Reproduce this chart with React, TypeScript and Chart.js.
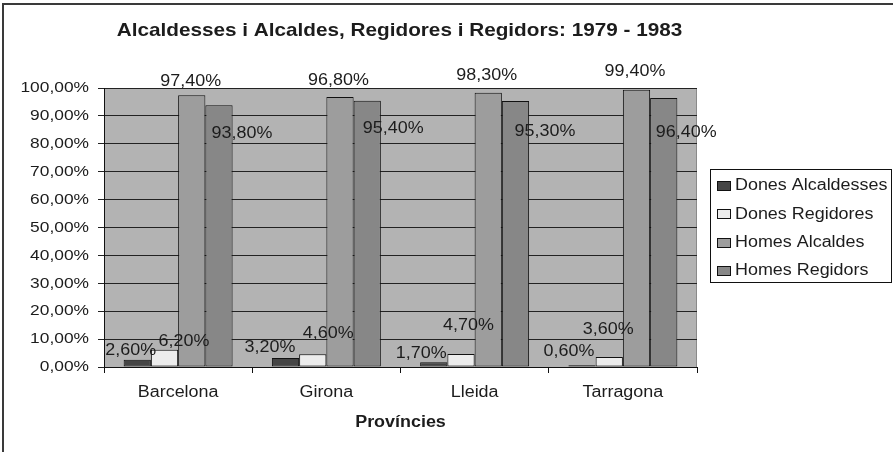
import React, { useEffect, useRef } from "react";
import { Chart, registerables } from "chart.js";

Chart.register(...registerables);

const TITLE = "Alcaldesses i Alcaldes, Regidores i Regidors: 1979 - 1983";
const X_TITLE = "Províncies";
const categories = ["Barcelona", "Girona", "Lleida", "Tarragona"];
const seriesNames = ["Dones Alcaldesses", "Dones Regidores", "Homes Alcaldes", "Homes Regidors"];
const donesAlcaldesses = [2.6, 3.2, 1.7, 0.6];
const donesRegidores = [6.2, 4.6, 4.7, 3.6];
const homesAlcaldes = [97.4, 96.8, 98.3, 99.4];
const homesRegidors = [93.8, 95.4, 95.3, 96.4];
const yTickValues = [0, 10, 20, 30, 40, 50, 60, 70, 80, 90, 100];

const seriesValues = [donesAlcaldesses, donesRegidores, homesAlcaldes, homesRegidors];
const seriesColors = ["#454545", "#ececec", "#9d9d9d", "#878787"];

// label offsets (dx, dy) of the label centre from each bar's top centre, as placed in the original
const LABEL_OFFSETS = [
  [[-6.5, -8.7], [-15.5, -10], [-12.5, -9], [-13, -14]],
  [[19.5, -8.6], [15.5, -21], [7.5, -28], [-1, -27]],
  [[-1, -14], [-1.5, -16], [-1.5, -17], [-1.5, -18]],
  [[23, 28.6], [26, 28], [29.5, 30], [22.5, 35]],
];

const FONT = "'Liberation Sans', Arial, sans-serif";
const STRETCH = 1.12;
const TEXT = "#1c1c1c";

const fmt = (v: number) => v.toFixed(2).replace(".", ",") + "%";

function drawText(ctx: CanvasRenderingContext2D, text: string, x: number, y: number, align: CanvasTextAlign, font: string) {
  ctx.save();
  ctx.translate(x, y);
  ctx.scale(STRETCH, 1);
  ctx.font = font;
  ctx.fillStyle = TEXT;
  ctx.textAlign = align;
  ctx.textBaseline = "middle";
  ctx.fillText(text, 0, 0);
  ctx.restore();
}

const decorPlugin = {
  id: "decor",
  beforeDraw(chart: any) {
    const { ctx, chartArea } = chart;
    ctx.save();
    ctx.fillStyle = "#ffffff";
    ctx.fillRect(0, 0, chart.width, chart.height);
    ctx.fillStyle = "#b3b3b3";
    ctx.fillRect(chartArea.left, chartArea.top, chartArea.right - chartArea.left, chartArea.bottom - chartArea.top);
    ctx.strokeStyle = "#8a8a8a";
    ctx.lineWidth = 1;
    ctx.beginPath();
    ctx.moveTo(chartArea.right - 0.5, chartArea.top);
    ctx.lineTo(chartArea.right - 0.5, chartArea.bottom);
    ctx.stroke();
    ctx.restore();
  },
  afterDraw(chart: any) {
    const { ctx, chartArea } = chart;
    const xs = chart.scales.x;
    const ys = chart.scales.y;
    // outer frame (top & left)
    ctx.save();
    ctx.strokeStyle = "#3a3a3a";
    ctx.lineWidth = 2;
    ctx.beginPath();
    ctx.moveTo(chart.width, 4);
    ctx.lineTo(3, 4);
    ctx.lineTo(3, chart.height);
    ctx.stroke();
    ctx.restore();

    // title
    drawText(ctx, TITLE, (chartArea.left + chartArea.right) / 2 - 1, 31, "center", `bold 18.5px ${FONT}`);

    // y tick labels
    yTickValues.forEach((v) => {
      drawText(ctx, fmt(v), 89, ys.getPixelForValue(v), "right", `15.5px ${FONT}`);
    });
    // category labels
    categories.forEach((c, i) => {
      drawText(ctx, c, xs.getPixelForValue(i), 393, "center", `16px ${FONT}`);
    });
    // x title
    drawText(ctx, X_TITLE, (chartArea.left + chartArea.right) / 2, 423, "center", `bold 16px ${FONT}`);

    // data labels
    chart.data.datasets.forEach((ds: any, di: number) => {
      const meta = chart.getDatasetMeta(di);
      meta.data.forEach((bar: any, i: number) => {
        const off = LABEL_OFFSETS[di][i];
        drawText(ctx, fmt(ds.data[i]), bar.x + off[0], bar.y + off[1], "center", `16px ${FONT}`);
      });
    });

    // legend
    const lx = 710, ly = 169, lw = 182, lh = 114;
    ctx.save();
    ctx.fillStyle = "#ffffff";
    ctx.fillRect(lx, ly, lw, lh);
    ctx.strokeStyle = "#111";
    ctx.lineWidth = 1;
    ctx.strokeRect(lx + 0.5, ly + 0.5, lw - 1, lh - 1);
    ctx.restore();
    seriesNames.forEach((name, i) => {
      const cy = 186 + i * 28.3;
      ctx.save();
      ctx.fillStyle = seriesColors[i];
      ctx.fillRect(717, Math.round(cy - 5), 14, 10);
      ctx.strokeStyle = "#111";
      ctx.lineWidth = 1;
      ctx.strokeRect(717.5, Math.round(cy - 5) + 0.5, 13, 9);
      ctx.restore();
      drawText(ctx, name, 735, cy, "left", `16px ${FONT}`);
    });
  },
};

export default function App() {
  const ref = useRef<HTMLCanvasElement | null>(null);
  useEffect(() => {
    if (!ref.current) return;
    const chart = new Chart(ref.current, {
      type: "bar",
      data: {
        labels: categories,
        datasets: seriesNames.map((name, i) => ({
          label: name,
          data: seriesValues[i],
          backgroundColor: seriesColors[i],
          borderColor: "#111111",
          borderWidth: 1,
          borderSkipped: false,
          categoryPercentage: 0.735,
          barPercentage: 1,
        })),
      },
      options: {
        animation: false,
        responsive: false,
        devicePixelRatio: 1,
        layout: { padding: { left: 0, top: 88, right: 196, bottom: 0 } },
        plugins: {
          legend: { display: false },
          title: { display: false },
          tooltip: { enabled: false },
        },
        scales: {
          x: {
            type: "category",
            offset: true,
            ticks: { display: false },
            grid: { drawOnChartArea: false, drawTicks: true, tickLength: 6, color: "#111", offset: true },
            border: { display: true, color: "#111", width: 1 },
            afterFit: (s: any) => { s.height = 85; },
          },
          y: {
            min: 0,
            max: 100,
            ticks: { display: false, stepSize: 10 },
            grid: { drawTicks: true, tickLength: 6, color: "#222", lineWidth: 1 },
            border: { display: true, color: "#111", width: 1 },
            afterFit: (s: any) => { s.width = 104; },
          },
        },
      },
      plugins: [decorPlugin],
    });
    return () => chart.destroy();
  }, []);
  return (
    <div style={{ position: "fixed", left: 0, top: 0, width: 893, height: 452, background: "#fff" }}>
      <canvas ref={ref} width={893} height={452} style={{ display: "block", width: 893, height: 452 }} />
    </div>
  );
}
